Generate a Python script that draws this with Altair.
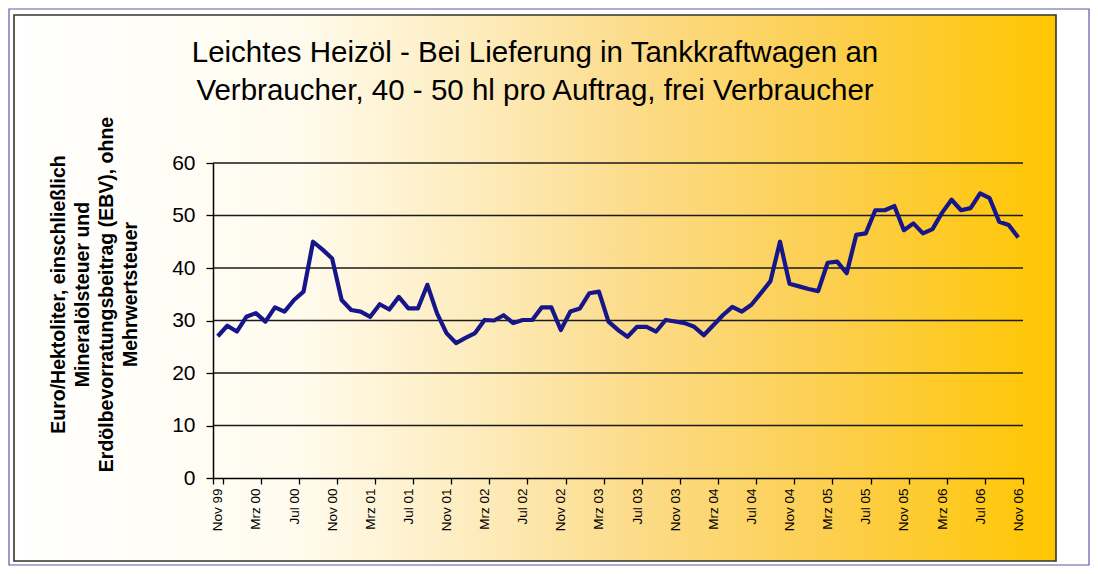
import altair as alt
import pandas as pd

MONTH_NAMES = ["Jan", "Feb", "Mrz", "Apr", "Mai", "Jun", "Jul", "Aug", "Sep", "Okt", "Nov", "Dez"]

# monthly prices, Nov 1999 .. Nov 2006 (Euro/hl)
PRICES = [
    27.0, 29.0, 27.9, 30.7, 31.4, 29.8, 32.5, 31.7, 33.9, 35.5,
    45.0, 43.5, 41.8, 33.9, 32.0, 31.7, 30.7, 33.1, 32.1, 34.5,
    32.3, 32.3, 36.8, 31.4, 27.6, 25.7, 26.7, 27.6, 30.1, 30.0,
    31.0, 29.5, 30.1, 30.1, 32.5, 32.5, 28.2, 31.7, 32.3, 35.2,
    35.5, 29.8, 28.2, 26.9, 28.8, 28.8, 27.9, 30.1, 29.8, 29.5,
    28.8, 27.2, 29.1, 31.0, 32.6, 31.7, 33.0, 35.2, 37.5, 45.0,
    37.0, 36.5, 36.0, 35.6, 41.0, 41.2, 39.0, 46.3, 46.6, 51.0,
    51.0, 51.8, 47.2, 48.5, 46.6, 47.4, 50.5, 53.0, 51.0, 51.4,
    54.2, 53.3, 48.8, 48.2, 45.8,
]

TICK_LABELS = [
    "Nov 99", "Mrz 00", "Jul 00", "Nov 00", "Mrz 01", "Jul 01", "Nov 01",
    "Mrz 02", "Jul 02", "Nov 02", "Mrz 03", "Jul 03", "Nov 03", "Mrz 04",
    "Jul 04", "Nov 04", "Mrz 05", "Jul 05", "Nov 05", "Mrz 06", "Jul 06", "Nov 06",
]
Y_TICKS = [0, 10, 20, 30, 40, 50, 60]
GRID_VALUES = [10, 20, 30, 40, 50, 60]

TITLE_LINES = [
    "Leichtes Heizöl - Bei Lieferung in Tankkraftwagen an",
    "Verbraucher, 40 - 50 hl pro Auftrag, frei Verbraucher",
]
Y_TITLE = [
    "Euro/Hektoliter, einschließlich",
    "Mineralölsteuer und",
    "Erdölbevorratungsbeitrag (EBV), ohne",
    "Mehrwertsteuer",
]

# month labels from Nov 1999 onwards
months = []
y, m = 1999, 11
for _ in PRICES:
    months.append(f"{MONTH_NAMES[m - 1]} {y % 100:02d}")
    m += 1
    if m > 12:
        m = 1
        y += 1

df = pd.DataFrame({"month": months, "value": PRICES})
grid_df = pd.DataFrame({"v": GRID_VALUES})
one = pd.DataFrame({"k": [0]})

W, H = 810, 315
FONT = "Liberation Sans"

xscale = alt.Scale(type="band", paddingInner=0, paddingOuter=0)
yscale = alt.Scale(domain=[0, 60], nice=False, zero=True)

gradient = alt.LinearGradient(
    gradient="linear",
    x1=0, x2=1, y1=0, y2=0,
    stops=[
        alt.GradientStop(offset=0.0, color="#ffffff"),
        alt.GradientStop(offset=0.27, color="#fffbee"),
        alt.GradientStop(offset=0.45, color="#fdebbb"),
        alt.GradientStop(offset=0.60, color="#fcdb88"),
        alt.GradientStop(offset=0.78, color="#fccf50"),
        alt.GradientStop(offset=1.0, color="#ffc600"),
    ],
)

border = alt.Chart(one).mark_rect(
    fill="#ffffff", stroke="#5a5aa8", strokeWidth=1.2
).encode(
    x=alt.value(-204), x2=alt.value(876), y=alt.value(-154), y2=alt.value(402)
)

frame = alt.Chart(one).mark_rect(
    fill=gradient, stroke="#333333", strokeWidth=1.6
).encode(
    x=alt.value(-199), x2=alt.value(843), y=alt.value(-148), y2=alt.value(398)
)

title = alt.Chart(one).mark_text(
    text=TITLE_LINES, font=FONT, fontSize=29.5, lineHeight=38,
    align="center", baseline="alphabetic", color="#000000",
).encode(x=alt.value(322), y=alt.value(-101))

grid = alt.Chart(grid_df).mark_rule(color="#1a1a1a", strokeWidth=1.4).encode(
    y=alt.Y("v:Q", scale=yscale)
)

line = alt.Chart(df).mark_line(color="#16168a", strokeWidth=4.2, strokeJoin="round").encode(
    x=alt.X(
        "month:N", sort=None, scale=xscale,
        axis=alt.Axis(
            values=TICK_LABELS, tickBand="extent", labelAngle=270,
            labelAlign="right", labelBaseline="middle", labelFont=FONT,
            labelFontSize=13.5, labelColor="#000000", labelPadding=4,
            tickSize=6, tickColor="#000000", tickWidth=1.3,
            domainColor="#000000", domainWidth=1.5, grid=False, title=None,
            zindex=1, labelOverlap=False,
        ),
    ),
    y=alt.Y(
        "value:Q", scale=yscale,
        axis=alt.Axis(
            values=Y_TICKS, grid=False, labelFont=FONT, labelFontSize=21,
            labelColor="#000000", labelPadding=11, tickSize=7, tickColor="#000000",
            tickWidth=1.3, domainColor="#000000", domainWidth=1.5,
            title=Y_TITLE, titleFont=FONT, titleFontSize=19.5, titleFontWeight="bold",
            titleColor="#000000", titleLineHeight=24, titleAngle=270,
            titleAlign="center", titleBaseline="middle",
            titleX=-155, titleY=131, zindex=1,
        ),
    ),
)

chart = alt.layer(border, frame, title, grid, line).properties(
    width=W, height=H,
    padding={"left": 205, "top": 155, "right": 67, "bottom": 88},
    autosize=alt.AutoSizeParams(type="none"),
).configure_view(stroke=None).configure(background="#ffffff")

chart.save("out.html", embed_options={"renderer": "svg", "actions": False})
